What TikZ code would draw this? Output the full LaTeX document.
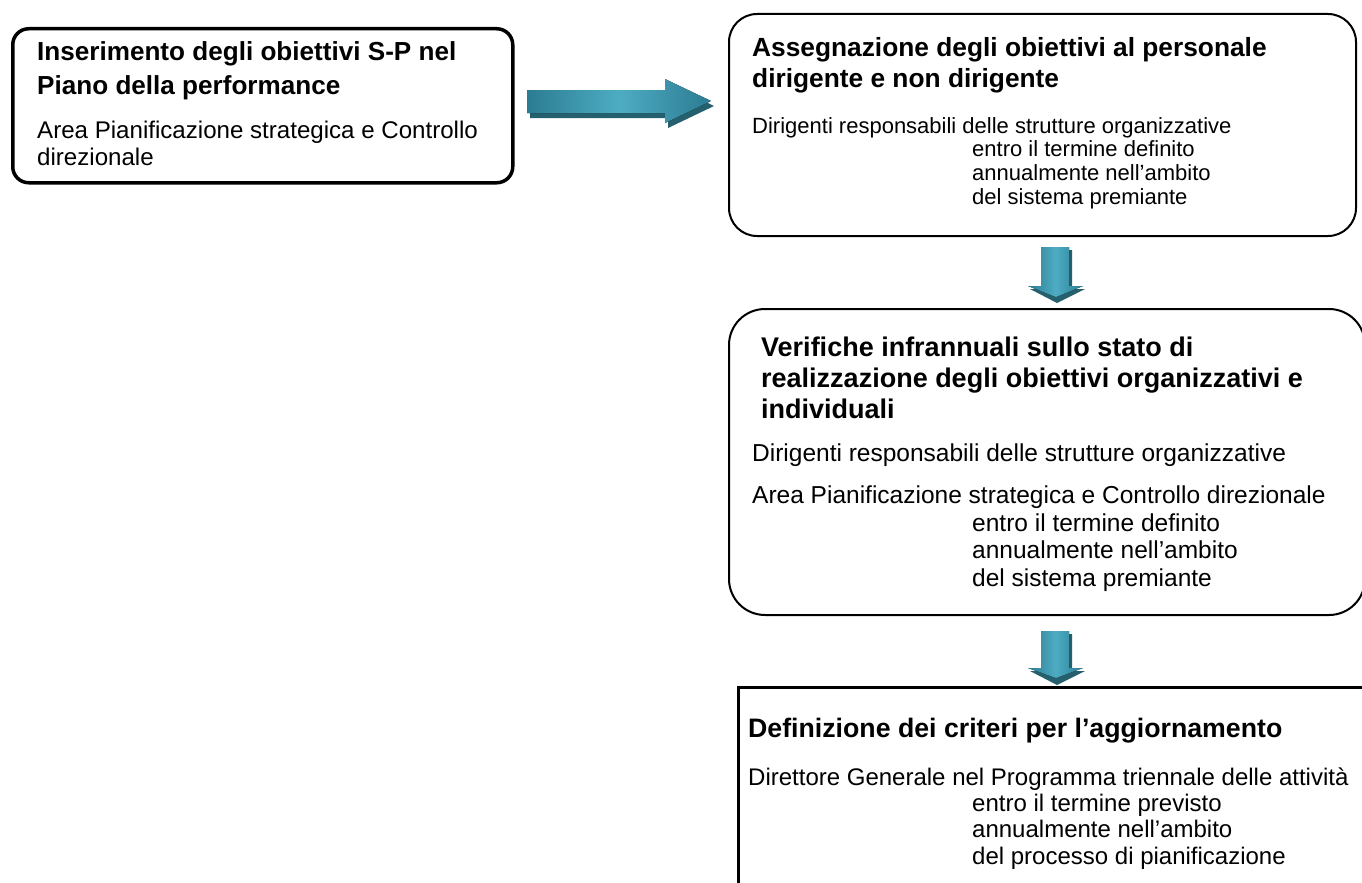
\documentclass[tikz,border=0pt]{standalone}
\usepackage{fontspec}
\setmainfont{Liberation Sans}
\definecolor{tealD}{HTML}{2C7C92}
\definecolor{tealL}{HTML}{4DACC3}
\definecolor{tealS}{HTML}{25606F}
\begin{document}
\begin{tikzpicture}[x=1pt,y=-1pt,
  tx/.style={anchor=base west, inner sep=0pt, align=left},
  boxA/.style={draw=black, inner sep=0pt, anchor=north west},
  arrowlight/.style={left color=tealD, right color=tealD, middle color=tealL},
  arrowshadow/.style={fill=tealS}]
\useasboundingbox (0,0) rectangle (1362,883);
\clip (0,0) rectangle (1362,883);
\fill[white] (0,0) rectangle (1362,883);

% boxes
\node[boxA, line width=3.5pt, rounded corners=16pt, minimum width=500pt, minimum height=154pt] (b1) at (11,27) {};
\node[boxA, line width=2pt, rounded corners=28pt, minimum width=627pt, minimum height=222pt] (b2) at (728,13) {};
\node[boxA, line width=2pt, rounded corners=36pt, minimum width=636pt, minimum height=306pt] (b3) at (728,308) {};
\node[boxA, line width=3.3pt, minimum width=700pt, minimum height=300pt] (b4) at (736.5,685.5) {};

% horizontal arrow
\fill[arrowshadow, shift={(3,5)}] (527,90) -- (665,90) -- (665,79) -- (711,101) -- (665,123) -- (665,113) -- (527,113) -- cycle;
\fill[arrowlight] (527,90) -- (665,90) -- (665,79) -- (711,101) -- (665,123) -- (665,113) -- (527,113) -- cycle;

% down arrow 1
\fill[arrowshadow] (1044,250) -- (1072,250) -- (1072,289) -- (1085,289) -- (1057,303) -- (1030,289) -- (1044,289) -- cycle;
\fill[arrowlight] (1041,247) -- (1069,247) -- (1069,286) -- (1083,286) -- (1056,297) -- (1028,286) -- (1041,286) -- cycle;

% down arrow 2
\fill[arrowshadow] (1044,634) -- (1072,634) -- (1072,671) -- (1085,671) -- (1057,685) -- (1030,671) -- (1044,671) -- cycle;
\fill[arrowlight] (1041,631) -- (1069,631) -- (1069,668) -- (1083,668) -- (1056,678) -- (1028,668) -- (1041,668) -- cycle;

% box 1 text (anchor = baseline of last line)
\node[tx, font=\fontsize{26.1}{33}\selectfont\bfseries] (t1) at (37,94) {Inserimento degli obiettivi S-P nel\\Piano della performance};
\node[tx, font=\fontsize{24.1}{27}\selectfont] (d1) at (37,165) {Area Pianificazione strategica e Controllo\\direzionale};

% box 2 text
\node[tx, font=\fontsize{26.3}{32}\selectfont\bfseries] (t2) at (752,88) {Assegnazione degli obiettivi al personale\\dirigente e non dirigente};
\node[tx, font=\fontsize{22}{24}\selectfont] (d2) at (752,133) {Dirigenti responsabili delle strutture organizzative};
\node[tx, font=\fontsize{22}{23.7}\selectfont] (e2) at (972,204) {entro il termine definito\\annualmente nell’ambito\\del sistema premiante};

% box 3 text
\node[tx, font=\fontsize{27}{31}\selectfont\bfseries] (t3) at (761,418) {Verifiche infrannuali sullo stato di\\realizzazione degli obiettivi organizzativi e\\individuali};
\node[tx, font=\fontsize{24.5}{27.5}\selectfont] (d3) at (752,461) {Dirigenti responsabili delle strutture organizzative};
\node[tx, font=\fontsize{24.5}{27.5}\selectfont] (a3) at (752,503) {Area Pianificazione strategica e Controllo direzionale};
\node[tx, font=\fontsize{24.5}{27.5}\selectfont] (e3) at (972,586) {entro il termine definito\\annualmente nell’ambito\\del sistema premiante};

% box 4 text
\node[tx, font=\fontsize{26.7}{30}\selectfont\bfseries] (t4) at (748,737) {Definizione dei criteri per l’aggiornamento};
\node[tx, font=\fontsize{24}{26.5}\selectfont] (d4) at (748,785) {Direttore Generale nel Programma triennale delle attività};
\node[tx, font=\fontsize{24}{26.5}\selectfont] (e4) at (972,864) {entro il termine previsto\\annualmente nell’ambito\\del processo di pianificazione};
\end{tikzpicture}
\end{document}
